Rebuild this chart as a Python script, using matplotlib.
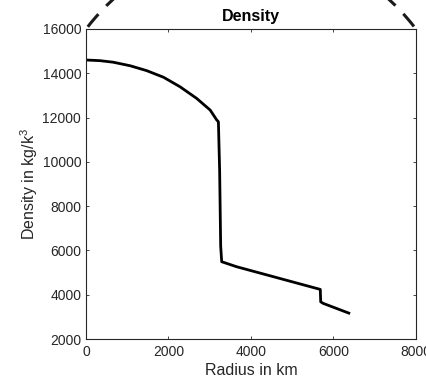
import matplotlib
matplotlib.use('Agg')
import matplotlib.pyplot as plt
from matplotlib.patches import Ellipse

plt.rcParams['font.family'] = ['Liberation Sans', 'DejaVu Sans']
plt.rcParams['mathtext.fontset'] = 'custom'
plt.rcParams['mathtext.rm'] = 'Liberation Sans'
plt.rcParams['mathtext.it'] = 'Liberation Sans'

# Density profile (radius in km, density in kg/k^3)
radius = [0, 340, 660, 1070, 1470, 1880, 2280, 2680, 3010, 3170, 3210,
          3240, 3265, 3290, 3650, 5680, 5690, 5750, 6371]
density = [14600, 14570, 14500, 14340, 14120, 13820, 13390, 12870, 12340, 11890, 11810,
           9600, 6200, 5490, 5265, 4240, 3680, 3610, 3170]

x_ticks = [0, 2000, 4000, 6000, 8000]
y_ticks = [2000, 4000, 6000, 8000, 10000, 12000, 14000, 16000]

grey = '#262626'

fig = plt.figure(figsize=(4.27, 3.79), dpi=100)

# dashed outline peeking out above the axes
strip = fig.add_axes([0, 0.9235, 1, 0.0765])
strip.axis('off')
ring = Ellipse((0.5878, 0.4723), 1.036, 1.3546, transform=fig.transFigure,
               fill=False, edgecolor='#1a1a1a', linewidth=2.2,
               linestyle=(7.7, (5.4, 3.73)))
strip.add_patch(ring)

ax = fig.add_axes([0.2014, 0.1055, 0.7728, 0.818])
ax.plot(radius, density, color='black', linewidth=2)
ax.set_xlim(0, 8000)
ax.set_ylim(2000, 16000)
ax.set_xticks(x_ticks)
ax.set_yticks(y_ticks)
ax.tick_params(direction='in', length=2.5, width=0.6, colors=grey,
               labelsize=10, top=True, right=True)
ax.tick_params(axis='x', pad=4.5)
for s in ax.spines.values():
    s.set_color(grey)
    s.set_linewidth(0.8)
ax.set_xlabel('Radius in km', fontsize=11.5, color=grey, labelpad=3)
ax.set_ylabel('Density in kg/k$^3$', fontsize=11.5, color=grey, labelpad=2)
ax.set_title('Density', fontsize=11.5, fontweight='bold', pad=6)

fig.savefig('out.png', dpi=100)
